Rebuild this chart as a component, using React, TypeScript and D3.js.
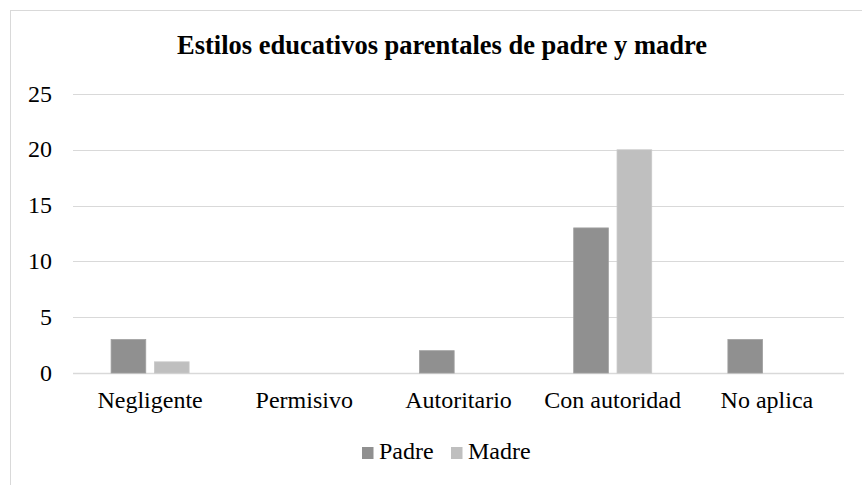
import React from "react";
import * as d3 from "d3";

const WIDTH = 862;
const HEIGHT = 485;

const categories = ["Negligente", "Permisivo", "Autoritario", "Con autoridad", "No aplica"];
const seriesNames = ["Padre", "Madre"];
const padre = [3, 0, 2, 13, 3];
const madre = [1, 0, 0, 20, 0];
const yTicks = [0, 5, 10, 15, 20, 25];
const colors = ["#909090", "#bfbfbf"];

const FONT = '"Liberation Serif", "Times New Roman", Times, "DejaVu Serif", serif';

export default function App() {
  const margin = { top: 94, right: 18, bottom: 112, left: 73 };

  const x = d3
    .scaleBand<string>()
    .domain(categories)
    .range([margin.left, WIDTH - margin.right])
    .paddingInner(0)
    .paddingOuter(0);

  // group of two bars centered in each category
  const groupW = x.bandwidth() * 0.506;
  const xInner = d3
    .scaleBand<string>()
    .domain(seriesNames)
    .range([(x.bandwidth() - groupW) / 2, (x.bandwidth() + groupW) / 2])
    .paddingInner(0.2);

  const y = d3.scaleLinear().domain([0, 25]).range([HEIGHT - margin.bottom, margin.top]);

  const series = [padre, madre];
  const txt = { fontFamily: FONT, fontSize: 24, fill: "#000" };

  return (
    <div style={{ position: "absolute", left: 0, top: 0 }}>
      <svg width={WIDTH} height={HEIGHT} style={{ display: "block", background: "#fff", fontFamily: FONT }}>
        {/* chart frame */}
        <rect x={10.5} y={10.5} width={WIDTH + 20} height={HEIGHT + 20} fill="#fff" stroke="#d9d9d9" strokeWidth={1} />

        <text x={442} y={54} textAnchor="middle" style={{ ...txt, fontSize: 26.5, fontWeight: "bold" }}>
          Estilos educativos parentales de padre y madre
        </text>

        {/* gridlines + y labels */}
        {yTicks.map((t) => (
          <g key={t}>
            <line
              x1={margin.left}
              x2={WIDTH - margin.right}
              y1={Math.round(y(t)) + 0.5}
              y2={Math.round(y(t)) + 0.5}
              stroke="#d9d9d9"
              strokeWidth={t === 0 ? 1.5 : 1.2}
            />
            <text x={52} y={y(t)} dy="0.32em" textAnchor="end" style={txt}>
              {t}
            </text>
          </g>
        ))}

        {/* bars */}
        {categories.map((c, i) => (
          <g key={c} transform={`translate(${x(c)},0)`}>
            {series.map((s, k) =>
              s[i] > 0 ? (
                <rect
                  key={k}
                  x={xInner(seriesNames[k])}
                  y={y(s[i])}
                  width={xInner.bandwidth()}
                  height={y(0) - y(s[i])}
                  fill={colors[k]}
                  stroke={k === 0 ? "#a0a0a0" : "#c8c8c8"}
                  strokeWidth={0.8}
                />
              ) : null
            )}
            <text x={x.bandwidth() / 2} y={408} textAnchor="middle" style={txt}>
              {c}
            </text>
          </g>
        ))}

        {/* legend */}
        {seriesNames.map((n, k) => (
          <g key={n} transform={`translate(${k === 0 ? 362 : 451},447)`}>
            <rect x={0} y={0} width={11.5} height={12} fill={colors[k]} />
            <text x={17} y={12} style={txt}>
              {n}
            </text>
          </g>
        ))}
      </svg>
    </div>
  );
}
